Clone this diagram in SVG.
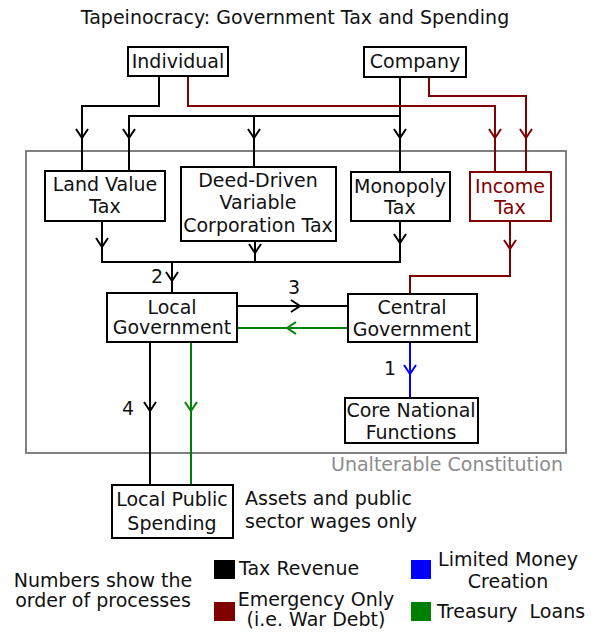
<svg xmlns="http://www.w3.org/2000/svg" xmlns:xlink="http://www.w3.org/1999/xlink" width="591" height="639" viewBox="0 0 591 639">
<style>
text{font-family:"DejaVu Sans","Liberation Sans",sans-serif;font-size:19px;fill:#111;}
.c{text-anchor:middle;}
.box{fill:#fff;stroke:#000;stroke-width:2;}
.rbox{fill:#fff;stroke:#800000;stroke-width:2;}
.ln{fill:none;stroke-width:2;}
.k{stroke:#000;}
.r{stroke:#800000;}
.g{stroke:#008000;}
.b{stroke:#0000ff;}
.red{fill:#800000;}
.gray{fill:#8c8c8c;}
</style>
<defs>
<path id="chev" d="M-6,-9 L0,0 L6,-9" fill="none" stroke-width="2"/>
</defs>
<rect id="constitution" x="26" y="151" width="540" height="302" fill="none" stroke="#808080" stroke-width="2"/>
<text class="gray" x="563" y="471" text-anchor="end">Unalterable Constitution</text>
<text class="c" x="295" y="24">Tapeinocracy: Government Tax and Spending</text>
<g id="connectors">
<path class="ln k" d="M159,76 V106 H82 V171"/>
<path class="ln k" d="M400,77 V172"/>
<path class="ln k" d="M400,116 H129 V171"/>
<path class="ln k" d="M254,116 V167"/>
<path class="ln r" d="M188,76 V106 H495 V172"/>
<path class="ln r" d="M429,77 V96 H526 V172"/>
<path class="ln k" d="M102,221 V262 H400 V221"/>
<path class="ln k" d="M255,241 V262"/>
<path class="ln k" d="M172,262 V293"/>
<path class="ln r" d="M510,221 V276 H410 V294"/>
<path class="ln k" d="M237,306 H348"/>
<path class="ln g" d="M348,328 H237"/>
<path class="ln b" d="M410,342 V398"/>
<path class="ln k" d="M150,342 V485"/>
<path class="ln g" d="M191,342 V485"/>
<use xlink:href="#chev" class="k" x="82" y="138"/>
<use xlink:href="#chev" class="k" x="129" y="138"/>
<use xlink:href="#chev" class="k" x="254" y="138"/>
<use xlink:href="#chev" class="k" x="400" y="138"/>
<use xlink:href="#chev" class="r" x="495" y="138"/>
<use xlink:href="#chev" class="r" x="526" y="138"/>
<use xlink:href="#chev" class="k" x="102" y="247"/>
<use xlink:href="#chev" class="k" x="255" y="253"/>
<use xlink:href="#chev" class="k" x="400" y="243"/>
<use xlink:href="#chev" class="k" x="172" y="281"/>
<use xlink:href="#chev" class="r" x="510" y="249"/>
<use xlink:href="#chev" class="k" transform="translate(300,306) rotate(-90)"/>
<use xlink:href="#chev" class="g" transform="translate(287,328) rotate(90)"/>
<use xlink:href="#chev" class="b" x="410" y="374"/>
<use xlink:href="#chev" class="k" x="150" y="411"/>
<use xlink:href="#chev" class="g" x="191" y="411"/>
<text class="c" x="157" y="283">2</text>
<text class="c" x="294" y="294">3</text>
<text class="c" x="390" y="375">1</text>
<text class="c" x="128" y="415">4</text>
</g>
<g id="individual"><rect class="box" x="128" y="47" width="100" height="29"/><text class="c" x="178" y="68">Individual</text></g>
<g id="company"><rect class="box" x="364" y="47" width="102" height="30"/><text class="c" x="415" y="68">Company</text></g>
<g id="lvt"><rect class="box" x="45" y="171" width="120" height="50"/><text class="c" x="105" y="191">Land Value</text><text class="c" x="105" y="213">Tax</text></g>
<g id="deed"><rect class="box" x="181" y="167" width="155" height="74"/><text class="c" x="258" y="187">Deed-Driven</text><text class="c" x="258" y="209">Variable</text><text class="c" x="258" y="232">Corporation Tax</text></g>
<g id="monopoly"><rect class="box" x="351" y="172" width="99" height="49"/><text class="c" x="400" y="193">Monopoly</text><text class="c" x="400" y="214">Tax</text></g>
<g id="income"><rect class="rbox" x="470" y="172" width="81" height="49"/><text class="c red" x="510" y="193">Income</text><text class="c red" x="510" y="214">Tax</text></g>
<g id="localgov"><rect class="box" x="107" y="293" width="130" height="49"/><text class="c" x="172" y="314">Local</text><text class="c" x="172" y="334">Government</text></g>
<g id="centralgov"><rect class="box" x="348" y="294" width="129" height="48"/><text class="c" x="412" y="314">Central</text><text class="c" x="412" y="336">Government</text></g>
<g id="core"><rect class="box" x="345" y="398" width="133" height="45"/><text class="c" x="411" y="417">Core National</text><text class="c" x="411" y="439">Functions</text></g>
<g id="localspend"><rect class="box" x="112" y="485" width="121" height="53"/><text class="c" x="172" y="506">Local Public</text><text class="c" x="172" y="530">Spending</text></g>
<g id="note"><text x="245" y="505">Assets and public</text><text x="245" y="528">sector wages only</text></g>
<g id="legend">
<text class="c" x="103" y="587">Numbers show the</text>
<text class="c" x="103" y="607">order of processes</text>
<rect x="214" y="560" width="21" height="19" fill="#000"/>
<text x="239" y="575">Tax Revenue</text>
<rect x="214" y="602" width="21" height="19" fill="#800000"/>
<text class="c" x="316" y="606">Emergency Only</text>
<text class="c" x="316" y="626">(i.e. War Debt)</text>
<rect x="411" y="560" width="20" height="19" fill="#0000ff"/>
<text class="c" x="508" y="566">Limited Money</text>
<text class="c" x="508" y="588">Creation</text>
<rect x="411" y="602" width="20" height="19" fill="#008000"/>
<text x="437" y="618" xml:space="preserve">Treasury  Loans</text>
</g>
</svg>
